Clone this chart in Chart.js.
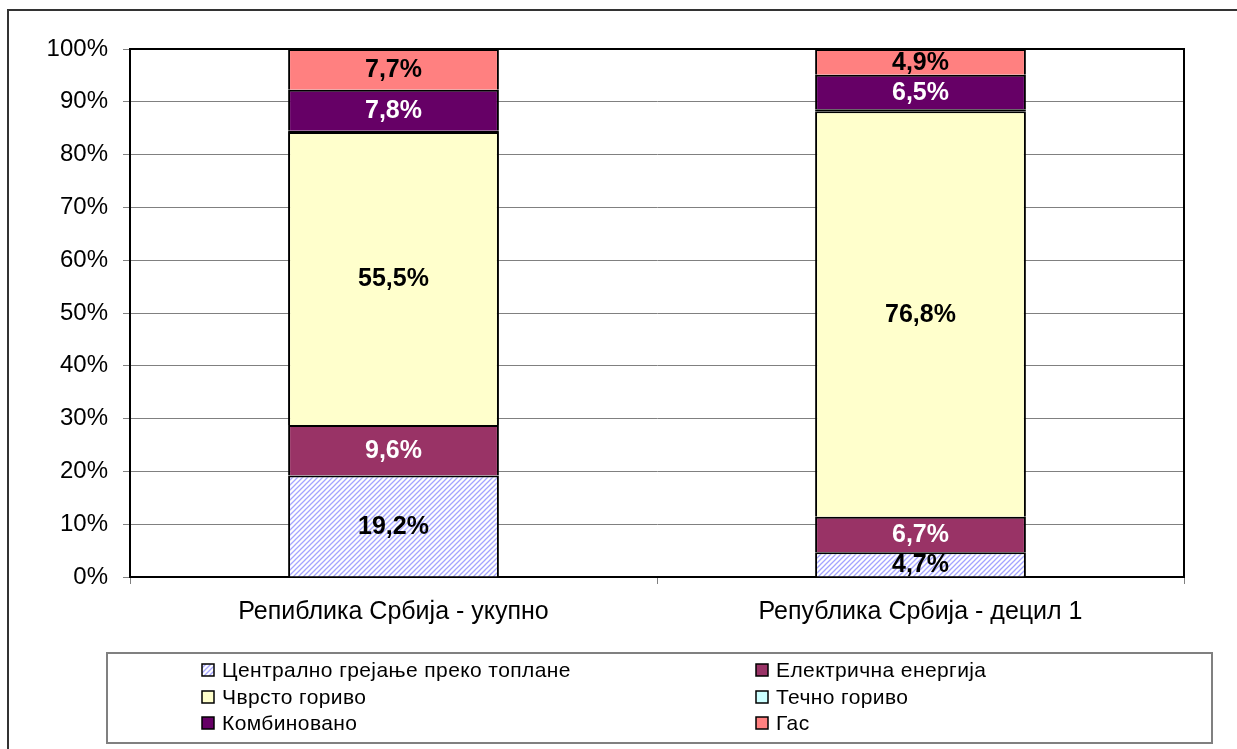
<!DOCTYPE html>
<html lang="sr">
<head>
  <meta charset="UTF-8">
  <title>Начин грејања</title>
  <script src="https://cdn.jsdelivr.net/npm/chart.js"></script>
  <style>
    html, body { margin: 0; padding: 0; background: #fff; }
    #wrap { position: relative; width: 1237px; height: 749px; }
  </style>
</head>
<body>
  <div id="wrap">
    <canvas id="chart" width="1237" height="749"></canvas>
  </div>

  <script>
    const categories = ['Репиблика Србија - укупно', 'Република Србија - децил 1'];
    const seriesNames = ['Централно грејање преко топлане', 'Електрична енергија', 'Чврсто гориво',
                         'Течно гориво', 'Комбиновано', 'Гас'];
    const central = [19.2, 4.7];
    const electric = [9.6, 6.7];
    const solid = [55.5, 76.8];
    const liquid = [0.2, 0.4];
    const combined = [7.8, 6.5];
    const gas = [7.7, 4.9];

    const FONT = '"Liberation Sans", Arial, sans-serif';

    // diagonal hatch for district heating
    function hatch() {
      const c = document.createElement('canvas');
      c.width = 5; c.height = 5;
      const g = c.getContext('2d');
      g.fillStyle = '#ffffff';
      g.fillRect(0, 0, 5, 5);
      g.strokeStyle = '#a4a4ff';
      g.lineWidth = 1.3;
      g.beginPath();
      g.moveTo(-1, 6); g.lineTo(6, -1);
      g.moveTo(-1, 1); g.lineTo(1, -1);
      g.moveTo(4, 6); g.lineTo(6, 4);
      g.stroke();
      return g.createPattern(c, 'repeat');
    }
    const hatchFill = hatch();

    const colors = [hatchFill, '#993366', '#ffffcc', '#ccffff', '#660066', '#ff8080'];
    const labelColors = ['#000', '#fff', '#000', null, '#fff', '#000'];
    const values = [central, electric, solid, liquid, combined, gas];

    const datasets = values.map((v, i) => ({
      label: seriesNames[i],
      data: v,
      backgroundColor: colors[i],
      borderColor: '#000',
      borderWidth: 2,
      borderSkipped: i === 3 ? false : 'start',
      inflateAmount: 0,
      barPercentage: 0.4,
      categoryPercentage: 1.0
    }));

    const valueLabels = {
      id: 'valueLabels',
      afterDatasetsDraw(chart) {
        const ctx = chart.ctx;
        ctx.save();
        ctx.font = 'bold 25px ' + FONT;
        ctx.textAlign = 'center';
        ctx.textBaseline = 'middle';
        chart.data.datasets.forEach((ds, i) => {
          if (!labelColors[i]) return;
          chart.getDatasetMeta(i).data.forEach((bar, j) => {
            const v = ds.data[j];
            ctx.fillStyle = labelColors[i];
            ctx.fillText(v.toFixed(1).replace('.', ',') + '%', bar.x, (bar.y + bar.base) / 2 + 1);
          });
        });
        ctx.restore();
      }
    };

    const frameAndLegend = {
      id: 'frameAndLegend',
      afterDraw(chart) {
        const ctx = chart.ctx;
        const a = chart.chartArea;
        ctx.save();
        // plot area top and right edges
        ctx.strokeStyle = '#000';
        ctx.lineWidth = 2;
        ctx.beginPath();
        ctx.moveTo(a.left, a.top);
        ctx.lineTo(a.right, a.top);
        ctx.lineTo(a.right, a.bottom);
        ctx.stroke();
        // outer frame
        ctx.strokeStyle = '#333';
        ctx.beginPath();
        ctx.moveTo(8, 749);
        ctx.lineTo(8, 10);
        ctx.lineTo(1237, 10);
        ctx.stroke();
        // legend box
        ctx.strokeStyle = '#808080';
        ctx.strokeRect(107, 653, 1105, 90);
        ctx.font = '21px ' + FONT;
        ctx.textBaseline = 'middle';
        ctx.textAlign = 'left';
        ctx.letterSpacing = '0.4px';
        const cols = [202, 756];
        const rows = [670, 697, 723];
        seriesNames.forEach((name, i) => {
          const x = cols[i % 2];
          const y = rows[Math.floor(i / 2)];
          ctx.fillStyle = colors[i];
          ctx.fillRect(x, y - 6, 12, 12);
          ctx.strokeStyle = '#000';
          ctx.lineWidth = 1.5;
          ctx.strokeRect(x, y - 6, 12, 12);
          ctx.fillStyle = '#000';
          ctx.fillText(name, x + 20, y + 1);
        });
        ctx.restore();
      }
    };

    new Chart(document.getElementById('chart'), {
      type: 'bar',
      data: { labels: categories, datasets: datasets },
      options: {
        responsive: false,
        animation: false,
        devicePixelRatio: 1,
        layout: { padding: { left: 0, top: 49, right: 53, bottom: 0 } },
        plugins: {
          legend: { display: false },
          tooltip: { enabled: false }
        },
        scales: {
          x: {
            stacked: true,
            afterFit: s => { s.height = 172; },
            grid: { offset: true, drawOnChartArea: false, color: '#808080', tickLength: 7 },
            border: { color: '#000', width: 2 },
            ticks: { color: '#000', padding: 13, font: { family: FONT, size: 25 } }
          },
          y: {
            stacked: true,
            min: 0,
            max: 100,
            afterFit: s => { s.width = 130; },
            grid: { color: '#808080', lineWidth: 1, tickLength: 7 },
            border: { color: '#000', width: 2 },
            ticks: {
              stepSize: 10,
              color: '#000',
              padding: 15,
              font: { family: FONT, size: 24 },
              callback: v => v + '%'
            }
          }
        }
      },
      plugins: [valueLabels, frameAndLegend]
    });
  </script>
</body>
</html>
